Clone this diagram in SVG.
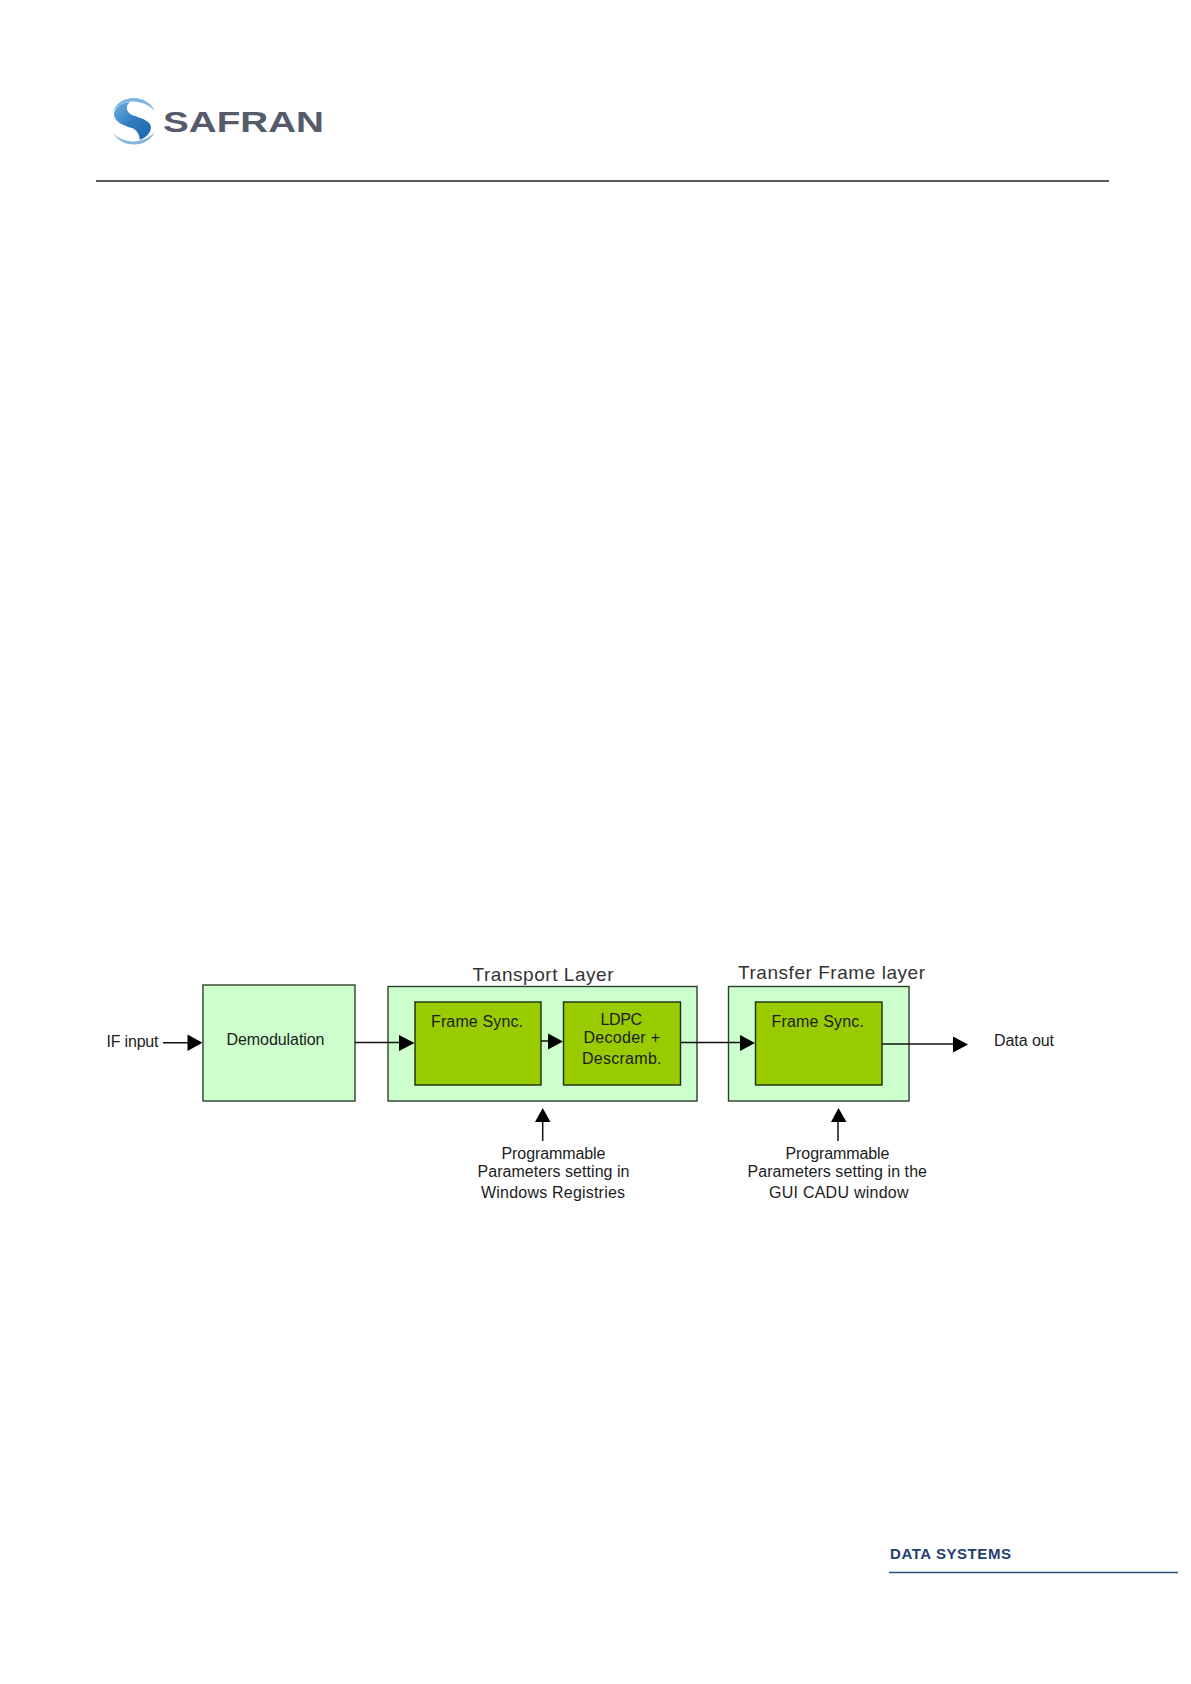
<svg xmlns="http://www.w3.org/2000/svg" width="1191" height="1684" viewBox="0 0 1191 1684">
<style>
text{font-family:"Liberation Sans",Arial,sans-serif;fill:#1c1c1c;font-size:16px}
.t{font-size:19px;fill:#333}
.l{fill:#ccffcc;stroke:#2f3f2f;stroke-width:1.4}
.d{fill:#99cc00;stroke:#1f2a10;stroke-width:1.4}
.c{stroke:#111;stroke-width:1.5;fill:none}
.h{fill:#000;stroke:none}
</style>
<defs>
<linearGradient id="sg" x1="0" y1="0" x2="1" y2="1"><stop offset="0" stop-color="#6fb0e0"/><stop offset=".5" stop-color="#2f7cc0"/><stop offset="1" stop-color="#1d64aa"/></linearGradient>
</defs>
<rect width="1191" height="1684" fill="#fff"/>
<g id="logo">
<path d="M112 113C116 103 124 98 134 98C143 98 151 103 155 111C149 105 141 101.500 133 101.500C124 101.500 116 106 112 113Z" fill="#7fb5de"/>
<path d="M112 132C117 140 125 144.500 134 144.500C143 144.500 151 140 155 132C149 138 141 141.500 133 141.500C125 141.500 117 138 112 132Z" fill="#7fb5de"/>
<path d="M130 102C120 103 114 108 114 115C115 122 124 126 132 128C137 130 139 134 140 140C147 137 151 132 151 127C150 120 140 118 132 115C126 112 125 106 130 102Z" fill="url(#sg)"/>
<text x="163" y="132.300" textLength="161" lengthAdjust="spacingAndGlyphs" style="font-size:30px;font-weight:700;fill:#565b6c">SAFRAN</text>
</g>
<line id="header-rule" x1="96" y1="181" x2="1109" y2="181" stroke="#222" stroke-width="1.300"/>
<g id="demodulation"><rect class="l" x="203" y="985" width="152" height="116"/><text x="226.500" y="1045" textLength="98">Demodulation</text></g>
<g id="transport-layer"><rect class="l" x="388" y="986.500" width="309" height="114.500"/><text class="t" x="472.500" y="980.500" textLength="141">Transport Layer</text></g>
<g id="frame-sync-1"><rect class="d" x="415" y="1002" width="126" height="83"/><text x="431" y="1026.500" textLength="92">Frame Sync.</text></g>
<g id="ldpc"><rect class="d" x="563.500" y="1002" width="117" height="83"/><text x="600.500" y="1025.300" textLength="41.500">LDPC</text><text x="583.500" y="1043.300" textLength="76.500">Decoder +</text><text x="582" y="1064.300" textLength="79.500">Descramb.</text></g>
<g id="transfer-frame-layer"><rect class="l" x="728.500" y="986.500" width="180.500" height="114.500"/><text class="t" x="738" y="979" textLength="187">Transfer Frame layer</text></g>
<g id="frame-sync-2"><rect class="d" x="755.500" y="1002" width="126.500" height="83"/><text x="771.500" y="1026.500" textLength="92.500">Frame Sync.</text></g>
<g id="if-input"><text x="106.500" y="1046.700" textLength="52">IF input</text></g>
<g id="data-out"><text x="994" y="1046" textLength="60">Data out</text></g>
<g id="params-1"><text x="501.500" y="1159.300" textLength="104">Programmable</text><text x="477.500" y="1177.300" textLength="152">Parameters setting in</text><text x="481" y="1198.300" textLength="144">Windows Registries</text></g>
<g id="params-2"><text x="785.500" y="1159.300" textLength="104">Programmable</text><text x="747.500" y="1177.300" textLength="179.500">Parameters setting in the</text><text x="769" y="1198.300" textLength="139.500">GUI CADU window</text></g>
<g id="connectors">
<path class="c" d="M163 1042.700H190M355 1042.500H402M541 1041H550M680.700 1042.500H742M882 1044H955M542.700 1141V1120M838 1141V1120"/>
<path class="h" d="M202.500 1042.700L187.500 1034.500V1051ZM414.500 1043L399 1035V1051ZM563 1041.500L548 1033.500V1049.500ZM755 1043L740 1035V1051ZM968 1044.500L953 1036.500V1052.500ZM542.700 1108L535 1122H550.500ZM838.500 1108L831 1122H846.500Z"/>
</g>
<g id="footer"><text x="890" y="1559" textLength="121" style="font-size:15px;font-weight:700;fill:#1f3f6f">DATA SYSTEMS</text><line x1="889" y1="1572.500" x2="1178" y2="1572.500" stroke="#2f4f7f" stroke-width="1.400"/></g>
</svg>
